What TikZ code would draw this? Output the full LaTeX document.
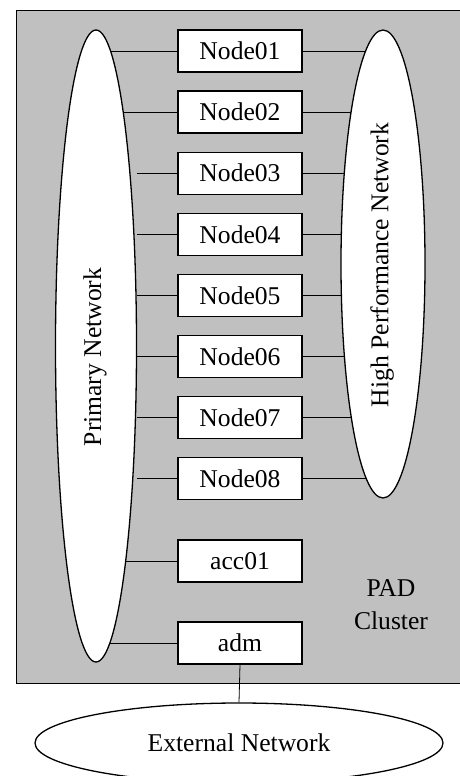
\documentclass[tikz,border=0pt]{standalone}
\usepackage{fontspec}
\setmainfont{Liberation Serif}
\usepackage{tikz}
\usetikzlibrary{shapes.geometric}
\definecolor{clustergray}{HTML}{C0C0C0}
\pgfdeclarelayer{back}
\pgfdeclarelayer{wires}
\pgfsetlayers{back,wires,main}
\tikzset{
  host/.style={draw, fill=white, minimum width=62pt, minimum height=21pt, inner sep=0pt},
  net/.style={draw, ellipse, fill=white, inner sep=0pt}
}

\begin{document}
\begin{tikzpicture}[x=0.5pt, y=-0.5pt, line width=0.65pt,
    font=\fontsize{12.8}{16.5}\selectfont]
  \clip (0,0) rectangle (460,776);

  % Networks
  \node[net, minimum width=40.5pt, minimum height=316pt] (pri) at (96,346) {};
  \node[net, minimum width=42pt, minimum height=234pt] (hpn) at (383,264) {};
  \node[net, minimum width=204pt, minimum height=40pt] (ext) at (239,743) {External Network};
  \node[rotate=90] (prilabel) at (95,357) {Primary Network};
  \node[rotate=90] (hpnlabel) at (382,265) {High Performance Network};

  % Hosts
  \foreach \i in {1,...,8}
    \node[host] (Node0\i) at (240,{51+61.1*(\i-1)}) {Node0\i};
  \node[host] (acc01) at (240,561) {acc01};
  \node[host] (adm) at (240,643) {adm};
  \node[align=center] (pad) at (391,605) {PAD\\Cluster};

  % Cluster frame
  \begin{pgfonlayer}{back}
    \draw[fill=clustergray] (16,10) rectangle (470,683);
  \end{pgfonlayer}

  % Links
  \begin{pgfonlayer}{wires}
    \foreach \n in {Node01,Node02,acc01,adm}
      \draw (\n.west) -- (\n.west -| pri.center);
    \foreach \i in {3,...,8}
      \draw (Node0\i.west) -- (Node0\i.west -| pri.east);
    \foreach \i in {1,...,8}
      \draw (Node0\i.east) -- (Node0\i.east -| hpn.center);
    \draw (adm.south) -- (ext.north);
  \end{pgfonlayer}
\end{tikzpicture}
\end{document}
